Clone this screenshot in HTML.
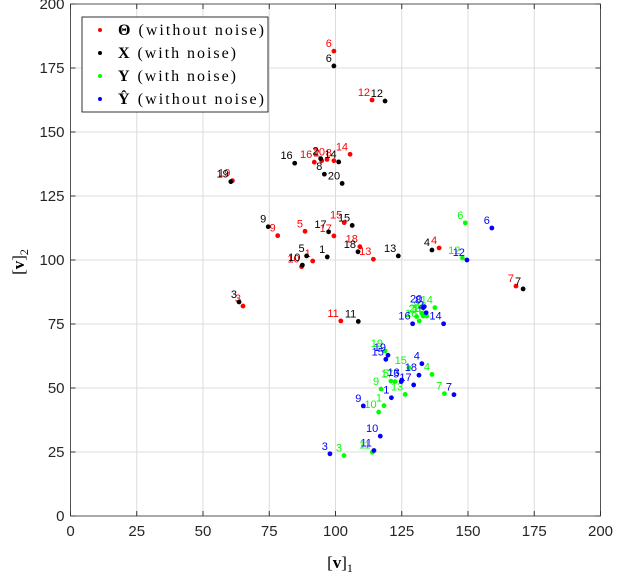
<!DOCTYPE html>
<html><head><meta charset="utf-8"><style>
html,body{margin:0;padding:0;background:#fff;}
svg{display:block;font-family:"Liberation Sans",sans-serif;}
</style></head><body>
<svg id="chart" width="620" height="576" viewBox="0 0 620 576" xmlns="http://www.w3.org/2000/svg">
<g id="grid"></g>
<g id="axes"></g>
<g id="marks"></g>
<g id="legend">
 <rect x="82" y="17" width="186" height="95" fill="#fff" stroke="#000" stroke-width="0.8"/>
 <g><circle cx="100" cy="30" r="2" fill="#f00"/><text x="118" y="35" font-family="Liberation Serif,serif" font-size="16" textLength="146" lengthAdjust="spacing"><tspan font-weight="bold">Θ</tspan> (without noise)</text></g>
 <g><circle cx="100" cy="53" r="2" fill="#000"/><text x="118" y="58" font-family="Liberation Serif,serif" font-size="16" textLength="118" lengthAdjust="spacing"><tspan font-weight="bold">X</tspan> (with noise)</text></g>
 <g><circle cx="100" cy="76" r="2" fill="#0f0"/><text x="118" y="81" font-family="Liberation Serif,serif" font-size="16" textLength="118" lengthAdjust="spacing"><tspan font-weight="bold">Y</tspan> (with noise)</text></g>
 <g><circle cx="100" cy="99" r="2" fill="#00f"/><text x="118" y="104" font-family="Liberation Serif,serif" font-size="16" textLength="146" lengthAdjust="spacing"><tspan font-weight="bold">Ŷ</tspan> (without noise)</text></g>
</g>
<text x="340" y="568" font-family="Liberation Serif,serif" font-size="17" text-anchor="middle">[<tspan font-weight="bold">v</tspan>]<tspan font-size="12" dy="4">1</tspan></text>
<text transform="translate(24,262) rotate(-90)" font-family="Liberation Serif,serif" font-size="17" text-anchor="middle">[<tspan font-weight="bold">v</tspan>]<tspan font-size="12" dy="4">2</tspan></text>
</svg>
<script>
const xTicks=[0,25,50,75,100,125,150,175,200];
const yTicks=[0,25,50,75,100,125,150,175,200];
const thetaX=[91.4,94.8,65.1,139.1,88.5,99.4,168.1,99.4,78.2,87.2,102,113.8,114.3,105.5,103.3,92,99.4,109.2,61.1,96.8];
const thetaY=[99.6,138.8,82.0,104.7,111.2,181.6,89.8,138.8,109.5,97.4,76.2,162.5,100.3,141.3,114.6,138.2,109.4,105.2,131,139.3];
const noisyXx=[96.9,94.4,63.6,136.4,89.1,99.4,170.8,95.8,74.6,87.5,108.6,118.7,123.7,101.2,106.3,84.6,97.4,108.5,60.5,102.5];
const noisyXy=[101.2,139.6,83.6,103.9,101.6,175.8,88.7,133.5,113,98,76,162.1,101.6,138.3,113.5,137.8,111,103.2,130.6,129.9];
const noisyYx=[118.3,130.6,103.2,136.4,120.9,149,141.1,132.5,117.2,116.3,113.9,147.9,126.3,137.5,127.7,131.6,122.5,134.4,118.7,133.1];
const noisyYy=[43.1,77.9,23.6,55.3,52.7,114.5,47.8,79.2,49.6,40.6,24.9,100.8,47.5,81.4,57.9,76.2,52.5,78.1,64.5,78.1];
const yhatX=[121.1,134.2,97.9,132.6,124.8,159,144.7,133.1,110.5,116.9,114.5,149.6,125,140.8,119,129.1,129.5,131.5,119.8,133.5];
const yhatY=[46.2,79.4,24.3,59.5,52.5,112.5,47.4,81.4,43,31.2,25.6,100,53.1,75.1,61.2,75.1,51.2,55,62.8,81.8];

const L=70.5,R=600.5,T=4,B=516;
const sx=v=>L+(v/200)*(R-L);
const sy=v=>B-(v/200)*(B-T);
const NS="http://www.w3.org/2000/svg";
function mk(tag,attrs,parent,txt){const e=document.createElementNS(NS,tag);for(const k in attrs)e.setAttribute(k,attrs[k]);if(txt!==undefined)e.textContent=txt;parent.appendChild(e);return e;}
const grid=document.getElementById('grid'),axes=document.getElementById('axes'),marks=document.getElementById('marks');
mk('rect',{x:L,y:T,width:R-L,height:B-T,fill:'#fff'},grid);
xTicks.forEach(t=>{
 const g=mk('line',{x1:sx(t),x2:sx(t),y1:T,y2:B,stroke:'#dcdcdc','stroke-width':1},grid);
 
 
 mk('line',{x1:sx(t),x2:sx(t),y1:B,y2:B-5,stroke:'#333'},axes);
 mk('line',{x1:sx(t),x2:sx(t),y1:T,y2:T+5,stroke:'#333'},axes);
 const tx=mk('text',{x:sx(t),y:B+20,'font-size':15,'text-anchor':'middle',fill:'#262626'},axes,String(t));
 
 
});
yTicks.forEach(t=>{
 const g=mk('line',{x1:L,x2:R,y1:sy(t),y2:sy(t),stroke:'#dcdcdc','stroke-width':1},grid);
 
 
 mk('line',{x1:L,x2:L+5,y1:sy(t),y2:sy(t),stroke:'#333'},axes);
 mk('line',{x1:R,x2:R-5,y1:sy(t),y2:sy(t),stroke:'#333'},axes);
 const tx=mk('text',{x:L-6,y:sy(t)+5,'font-size':15,'text-anchor':'end',fill:'#262626'},axes,String(t));
 
 
});
mk('rect',{x:L,y:T,width:R-L,height:B-T,fill:'none',stroke:'#333','stroke-width':0.8},axes);
function series(xs,ys,color,name){
 const g=mk('g',{},marks);
 
 
 xs.forEach((v,i)=>{
  const cx=sx(v),cy=sy(ys[i]);
  const c=mk('circle',{cx:cx,cy:cy,r:2.4,fill:color},g);
  
  
  const t=mk('text',{x:cx-2,y:cy-4,'font-size':11,'text-anchor':'end',fill:color},g,String(i+1));
  
  
 });
}
series(thetaX,thetaY,'#f00','theta');
series(noisyXx,noisyXy,'#000','x');
series(noisyYx,noisyYy,'#0f0','y');
series(yhatX,yhatY,'#00f','yhat');
</script>
</body></html>
